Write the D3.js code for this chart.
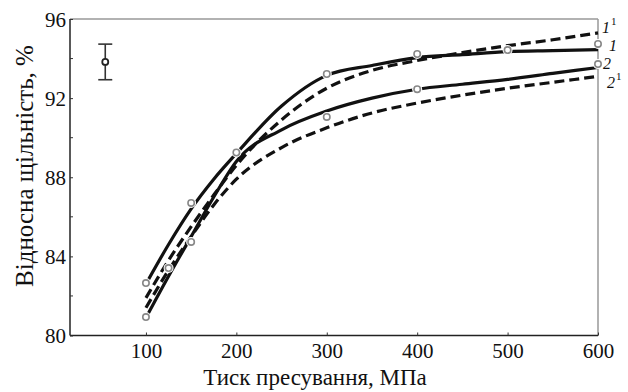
<!DOCTYPE html>
<html><head><meta charset="utf-8">
<script src="https://cdn.jsdelivr.net/npm/d3@7"></script>
<style>body{margin:0;background:#fff}svg{display:block}text{font-family:"Liberation Serif","Times New Roman",serif;fill:#111}</style>
</head><body><svg id="c" width="628" height="392"></svg>
<script>
const pressure = [100,125,150,175,200,250,300,350,400,450,500,550,600];
const curve1   = [82.6,84.6,86.4,87.9,89.2,91.6,93.15,93.65,94.05,94.2,94.35,94.4,94.45];
const curve1d  = [81.9,83.8,85.5,87.1,88.6,90.9,92.5,93.4,93.9,94.3,94.65,94.95,95.3];
const curve2   = [80.9,83.0,85.0,87.0,88.8,90.4,91.35,92.0,92.45,92.7,92.95,93.25,93.55];
const curve2d  = [81.4,83.3,85.0,86.6,87.9,89.5,90.5,91.25,91.75,92.15,92.5,92.8,93.1];
const pts1x = [100,150,200,300,400,500,600];
const pts1y = [82.65,86.7,89.25,93.22,94.23,94.43,94.74];
const pts2x = [100,125,150,300,400,600];
const pts2y = [80.93,83.41,84.73,91.05,92.45,93.72];
const errX = 55, errY = 93.83, errHalf = 0.9;
const xTicks = [100,200,300,400,500,600];
const yTicks = [80,84,88,92,96];
const yMinor = [82,86,90,94];

const svg = d3.select("#c");
const x = d3.scaleLinear().domain([16,600]).range([70,598]);
const y = d3.scaleLinear().domain([80,96]).range([335.5,19]);

// frame
svg.append("line").attr("x1",70).attr("x2",598).attr("y1",19).attr("y2",19).attr("stroke","#999").attr("stroke-width",1.5);
svg.append("line").attr("x1",598).attr("x2",598).attr("y1",19).attr("y2",335.5).attr("stroke","#999").attr("stroke-width",1.5);

const gx = svg.append("g").attr("transform","translate(0,335.5)")
  .call(d3.axisBottom(x).tickValues(xTicks).tickSize(-3).tickPadding(8).tickFormat(d3.format("d")));
const gy = svg.append("g").attr("transform","translate(70,0)")
  .call(d3.axisLeft(y).tickValues(yTicks).tickSize(-3).tickPadding(4).tickFormat(d3.format("d")));
gy.append("g").selectAll("line").data(yMinor).join("line")
  .attr("x1",0).attr("x2",3).attr("y1",d=>y(d)).attr("y2",d=>y(d)).attr("stroke","#333");
[gx,gy].forEach(g=>{
  g.attr("font-family",null);
  g.select(".domain").attr("stroke","#222").attr("stroke-width",1.5).attr("d", g===gx ? "M70,0H598" : "M0,19V335.5");
  g.selectAll(".tick line").attr("stroke","#333");
  g.selectAll(".tick text").attr("font-size",21).attr("fill","#111");
});
gx.selectAll(".tick text").attr("dy","0.71em");
gy.selectAll(".tick text").attr("dy","0.35em");

// curves
const line = d3.line().x(d=>x(d[0])).y(d=>y(d[1])).curve(d3.curveMonotoneX);
const series = [
  {v:curve1, dash:null},
  {v:curve1d, dash:"10,5"},
  {v:curve2, dash:null},
  {v:curve2d, dash:"10,5"}
];
series.forEach(s=>{
  svg.append("path").datum(pressure.map((p,i)=>[p,s.v[i]]))
    .attr("d",line).attr("fill","none").attr("stroke","#111").attr("stroke-width",3.2)
    .attr("stroke-dasharray",s.dash);
});

// measured points
const pts = pts1x.map((p,i)=>[p,pts1y[i]]).concat(pts2x.map((p,i)=>[p,pts2y[i]]));
svg.append("g").selectAll("circle").data(pts).join("circle")
  .attr("cx",d=>x(d[0])).attr("cy",d=>y(d[1])).attr("r",5).attr("fill","#fff");
svg.append("g").selectAll("circle").data(pts).join("circle")
  .attr("cx",d=>x(d[0])).attr("cy",d=>y(d[1])).attr("r",3.2)
  .attr("fill","#fff").attr("stroke","#888").attr("stroke-width",1.6);

// error bar
const eb = svg.append("g").attr("stroke","#333").attr("stroke-width",1.6);
eb.append("line").attr("x1",x(errX)).attr("x2",x(errX)).attr("y1",y(errY+errHalf)).attr("y2",y(errY-errHalf));
eb.append("line").attr("x1",x(errX)-7).attr("x2",x(errX)+7).attr("y1",y(errY+errHalf)).attr("y2",y(errY+errHalf));
eb.append("line").attr("x1",x(errX)-7).attr("x2",x(errX)+7).attr("y1",y(errY-errHalf)).attr("y2",y(errY-errHalf));
svg.append("circle").attr("cx",x(errX)).attr("cy",y(errY)).attr("r",3).attr("fill","#fff").attr("stroke","#222").attr("stroke-width",1.8);

// curve labels
function lab(xp,yp,main,sup){
  const t = svg.append("text").attr("x",xp).attr("y",yp).attr("font-size",16);
  t.append("tspan").attr("font-style","italic").text(main);
  if(sup) t.append("tspan").attr("font-size",11).attr("dy",-8).attr("dx",1).text(sup);
}
lab(602,33,"1","1");
lab(609,51,"1",null);
lab(603,69,"2",null);
lab(607,88,"2","1");

// axis titles
svg.append("text").attr("x",315).attr("y",385).attr("text-anchor","middle").attr("font-size",23).text("Тиск пресування, МПа");
svg.append("text").attr("transform","translate(33,166) rotate(-90)").attr("text-anchor","middle").attr("font-size",25).text("Відносна щільність, %");
</script></body></html>
